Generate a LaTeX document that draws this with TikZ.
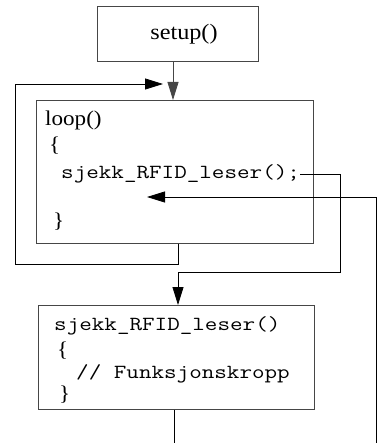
\documentclass[tikz,border=0pt]{standalone}
\usepackage{fontspec}
\usetikzlibrary{arrows.meta}
\setmainfont{Liberation Serif}[FakeStretch=1.1]
\newfontfamily\codefont{Latin Modern Mono}[FakeStretch=1.22]
\definecolor{boxgray}{RGB}{70,70,70}
\begin{document}
\begin{tikzpicture}[x=1pt,y=-1pt,
  box/.style={draw=boxgray,line width=0.9pt,inner sep=0pt,anchor=north west},
  conn/.style={draw=black,line width=0.8pt},
  tip/.style={-{Triangle[length=18pt,width=11pt]}},
  serif/.style={font=\fontsize{21}{24}\selectfont,inner sep=0pt,anchor=west},
  code/.style={font=\codefont\fontsize{20}{22}\selectfont,inner sep=0pt,anchor=west}]
\useasboundingbox (0,0) rectangle (377,443);
% boxes
\node[box,minimum width=161pt,minimum height=55pt] (setup) at (97,6) {};
\node[serif,font=\fontsize{22}{24}\selectfont,anchor=center] (setuptxt) at (184,34) {setup()};
\node[box,minimum width=277pt,minimum height=143pt] (loop) at (36,100) {};
\node[box,minimum width=276pt,minimum height=104pt] (func) at (38,305) {};
% loop texts
\node[serif] (looptxt) at (45,120) {loop()};
\node[serif] (lbrace1) at (49,146) {\{};
\node[code] (call) at (61,174) {sjekk\_RFID\_leser();};
\node[serif] (rbrace1) at (53,222) {\}};
% function texts
\node[code] (fname) at (54,326) {sjekk\_RFID\_leser()};
\node[serif] (lbrace2) at (57,351) {\{};
\node[code] (body) at (76,374) {// Funksjonskropp};
\node[serif] (rbrace2) at (59,395) {\}};
% coordinates
\coordinate (ret) at (163,84);
\coordinate (back) at (147,197);
\coordinate (bot1) at (174,443);
\coordinate (bot2) at (376,443);
% connectors
\draw[conn,draw=boxgray,tip] (setup.south -| 173,0) -- (loop.north -| 173,0);
\draw[conn,tip] (loop.south -| 178,0) -- (178,264) -- (15,264) -- (15,84) -- (ret);
\draw[conn,tip] (call.east) -- (340,174) -- (340,272) -- (178,272) -- (func.north -| 178,0);
\draw[conn,tip] (bot2) -- (376,197) -- (back);
\draw[conn] (func.south -| bot1) -- (bot1);
\end{tikzpicture}
\end{document}
